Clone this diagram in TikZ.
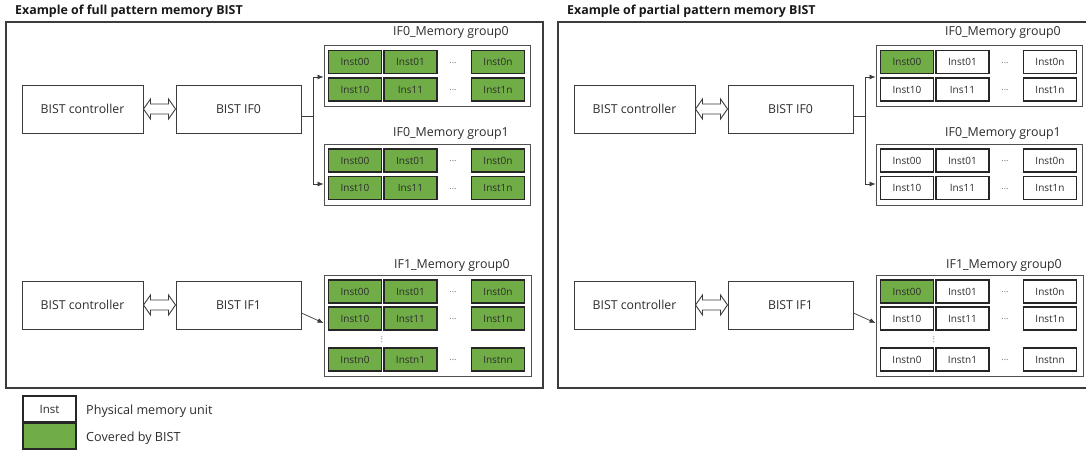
\documentclass[tikz,border=0pt]{standalone}
\usepackage{fontspec}
\setmainfont{Open Sans}
\usetikzlibrary{calc,arrows.meta}
\definecolor{bistgreen}{RGB}{112,173,71}
\definecolor{edge}{RGB}{60,60,60}
\definecolor{txt}{RGB}{45,45,45}

\tikzset{
  panel/.style={draw=edge, line width=1.3pt},
  ptitle/.style={font=\fontsize{12.4}{14}\selectfont\bfseries, text=black!90, inner sep=0, anchor=west},
  box/.style={draw=edge, line width=1pt, minimum width=121pt, minimum height=48pt, inner sep=0,
    font=\fontsize{12.3}{14}\selectfont, text=txt},
  grp/.style={draw=edge!90, line width=0.9pt, inner sep=0},
  gtitle/.style={font=\fontsize{12.4}{14}\selectfont, text=txt, inner sep=0},
  off/.style={draw=black!85, line width=1.1pt, minimum width=53pt, minimum height=23pt, inner sep=0,
    font=\fontsize{10}{11}\selectfont, text=txt, fill=white},
  on/.style={off, fill=bistgreen},
  dots/.style={font=\fontsize{9}{10}\selectfont, text=black!55, inner sep=0},
  conn/.style={draw=edge, line width=0.7pt},
  tip/.style={conn, -{Latex[length=6pt,width=5pt]}},
  dbl/.style={draw=edge, line width=0.9pt, fill=white, line join=miter},
  legtext/.style={font=\fontsize{12.6}{14}\selectfont, text=txt, inner sep=0, anchor=west},
}

% one panel: #1 name prefix, #2 shift, #3 title, #4 style of the cells beyond Inst00
\newcommand\bistpanel[4]{%
\begin{scope}[xshift=#2]
  \draw[panel] (6,22) rectangle (543,388);
  \node[ptitle] (#1title) at (15,11) {#3};
  % interface 0
  \node[box] (#1c0) at (82.5,109) {BIST controller};
  \node[box, minimum width=125pt] (#1i0) at (238.5,109) {BIST IF0};
  \draw[dbl] (#1c0.east) -- ++(7,-10) -- ++(0,5) -- ($(#1i0.west)+(-7,-5)$) -- ++(0,-5)
     -- (#1i0.west) -- ++(-7,10) -- ++(0,-5) -- ($(#1c0.east)+(7,5)$) -- ++(0,5) -- cycle;
  \node[gtitle] (#1t0) at (451,32) {IF0\_Memory group0};
  \node[grp, minimum width=206pt, minimum height=61pt] (#1g0) at (427,75.5) {};
  \node[on]  (#1g0a0) at (355,62) {Inst00};
  \node[#4]  (#1g0a1) at (410.5,62) {Inst01};
  \node[dots] (#1g0ad) at (453,63) {...};
  \node[#4]  (#1g0an) at (498,62) {Inst0n};
  \node[#4]  (#1g0b0) at (355,89.5) {Inst10};
  \node[#4]  (#1g0b1) at (410.5,89.5) {Ins11};
  \node[dots] (#1g0bd) at (453,90.5) {...};
  \node[#4]  (#1g0bn) at (498,89.5) {Inst1n};
  \node[gtitle] (#1t1) at (451,133) {IF0\_Memory group1};
  \node[grp, minimum width=206pt, minimum height=61pt] (#1g1) at (427,174.5) {};
  \node[#4]  (#1g1a0) at (355,160.5) {Inst00};
  \node[#4]  (#1g1a1) at (410.5,160.5) {Inst01};
  \node[dots] (#1g1ad) at (453,161.5) {...};
  \node[#4]  (#1g1an) at (498,160.5) {Inst0n};
  \node[#4]  (#1g1b0) at (355,188) {Inst10};
  \node[#4]  (#1g1b1) at (410.5,188) {Ins11};
  \node[dots] (#1g1bd) at (453,189) {...};
  \node[#4]  (#1g1bn) at (498,188) {Inst1n};
  \draw[conn] ([yshift=-7pt]#1i0.east) -- ++(12,0) coordinate (#1j);
  \draw[tip] (#1j) |- ([yshift=-1.5pt]#1g0.west);
  \draw[tip] (#1j) |- ([yshift=-9.5pt]#1g1.west);
  % interface 1
  \node[box] (#1c1) at (82.5,305) {BIST controller};
  \node[box, minimum width=125pt] (#1i1) at (238.5,305) {BIST IF1};
  \draw[dbl] (#1c1.east) -- ++(7,-10) -- ++(0,5) -- ($(#1i1.west)+(-7,-5)$) -- ++(0,-5)
     -- (#1i1.west) -- ++(-7,10) -- ++(0,-5) -- ($(#1c1.east)+(7,5)$) -- ++(0,5) -- cycle;
  \node[gtitle] (#1t2) at (452,265) {IF1\_Memory group0};
  \node[grp, minimum width=207pt, minimum height=101pt] (#1g2) at (427.5,325.5) {};
  \node[on]  (#1g2a0) at (355,291.5) {Inst00};
  \node[#4]  (#1g2a1) at (410.5,291.5) {Inst01};
  \node[dots] (#1g2ad) at (453,292.5) {...};
  \node[#4]  (#1g2an) at (498,291.5) {Inst0n};
  \node[#4]  (#1g2b0) at (355,318.5) {Inst10};
  \node[#4]  (#1g2b1) at (410.5,318.5) {Inst11};
  \node[dots] (#1g2bd) at (453,319.5) {...};
  \node[#4]  (#1g2bn) at (498,318.5) {Inst1n};
  \node[dots, rotate=90] (#1g2v) at (382,339.5) {...};
  \node[#4]  (#1g2n0) at (355,359.5) {Instn0};
  \node[#4]  (#1g2n1) at (410.5,359.5) {Instn1};
  \node[dots] (#1g2nd) at (453,360.5) {...};
  \node[#4]  (#1g2nn) at (498,359.5) {Instnn};
  \draw[tip] ([yshift=-8pt]#1i1.east) -- ([yshift=2.5pt]#1g2.west);
\end{scope}}

\begin{document}
\begin{tikzpicture}[x=1pt, y=-1pt]
  \useasboundingbox[fill=white] (0,0) rectangle (1086,450);
  \bistpanel{L}{0}{Example of full pattern memory BIST}{on}
  \bistpanel{R}{552}{Example of partial pattern memory BIST}{off}
  % legend
  \node[off, minimum height=26pt, font=\fontsize{11.5}{13}\selectfont] (legI) at (49.5,409) {Inst};
  \node[on, minimum height=26pt] (legG) at (49.5,436) {};
  \node[legtext] (legIt) at (86,411) {Physical memory unit};
  \node[legtext] (legGt) at (86,438.5) {Covered by BIST};
\end{tikzpicture}
\end{document}
